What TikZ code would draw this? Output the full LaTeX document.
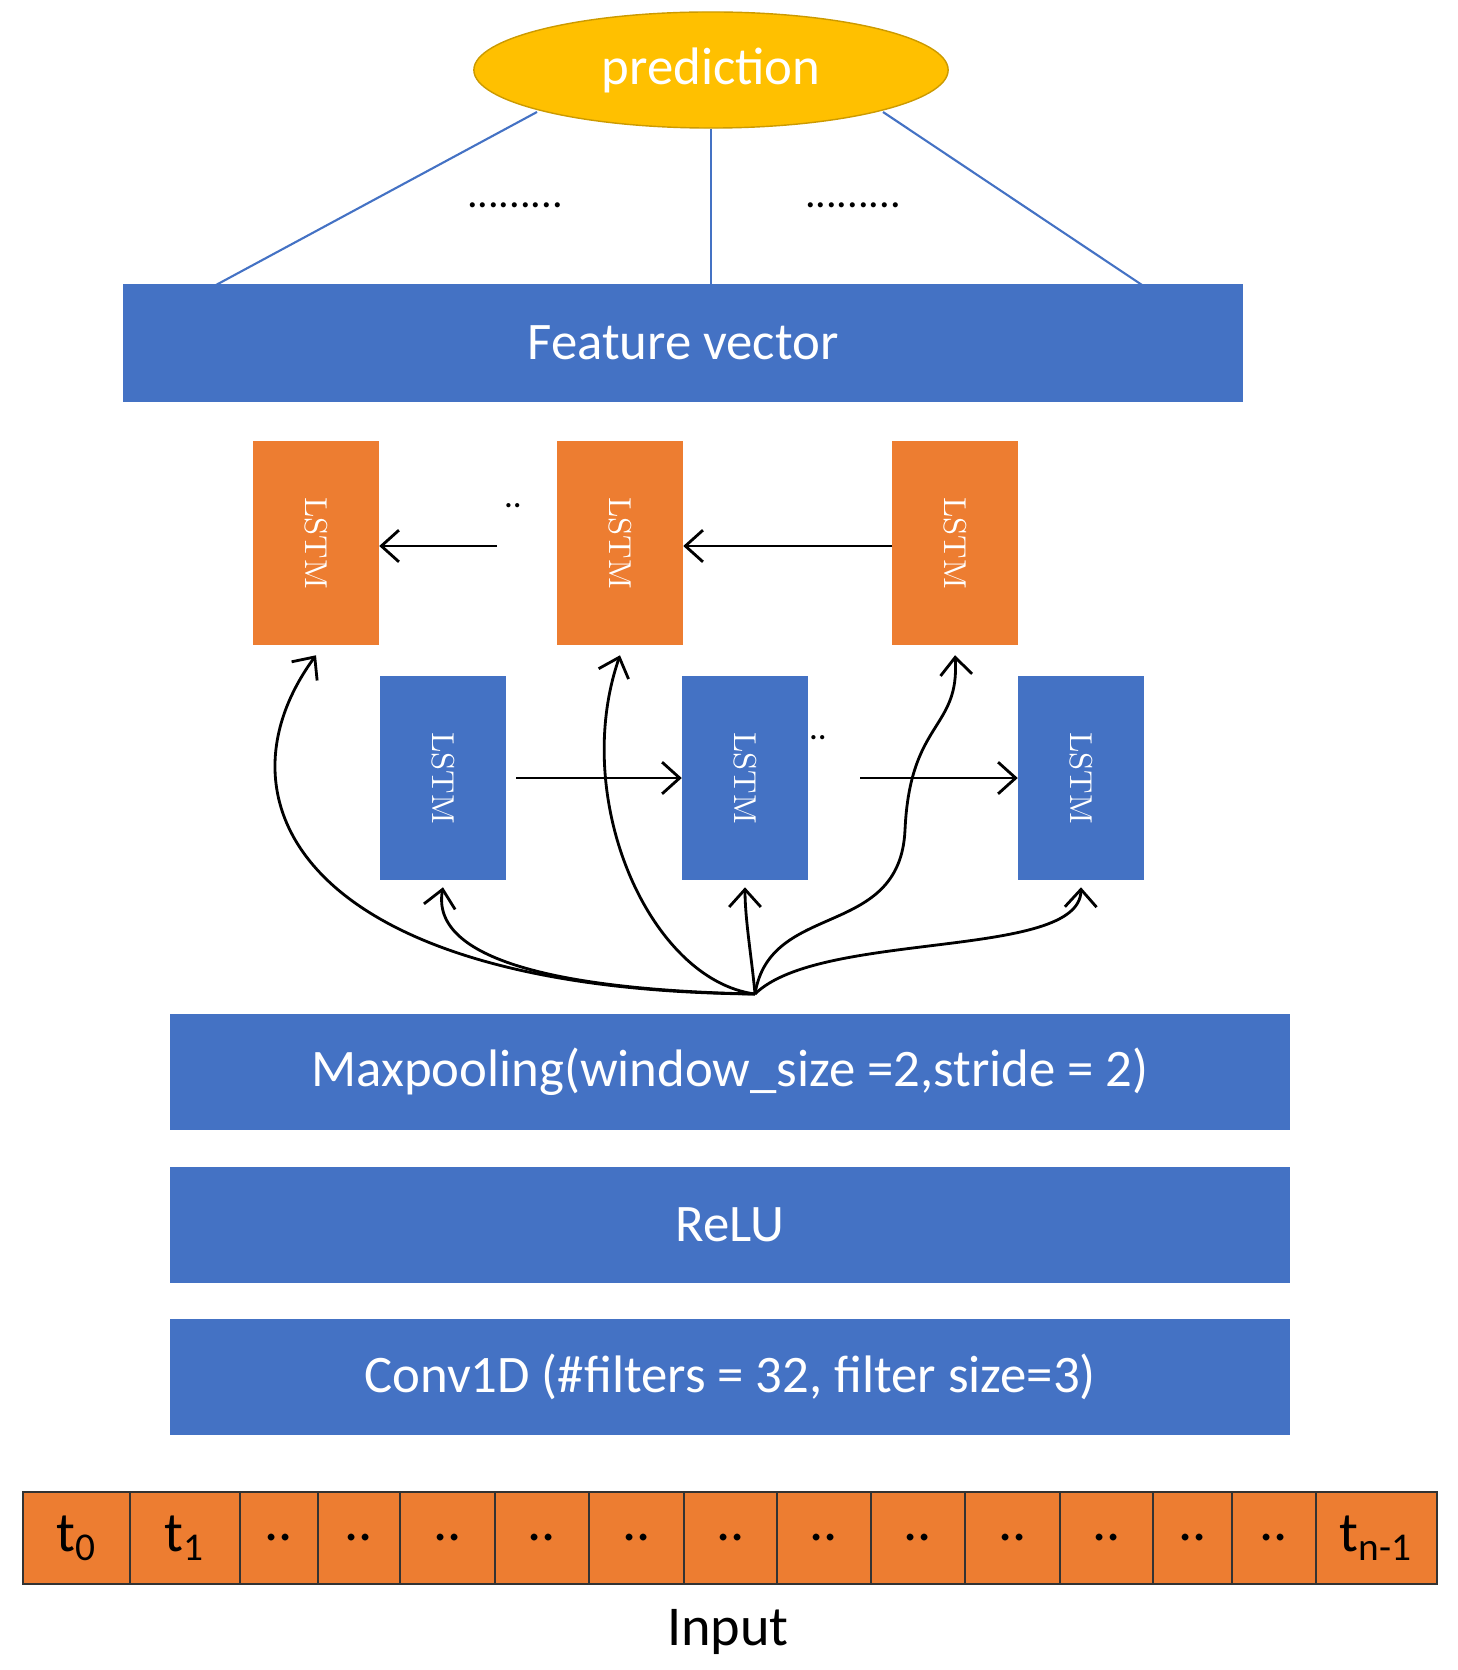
\documentclass[tikz,border=0pt]{standalone}
\usepackage{fontspec}
\setmainfont{Carlito}
\usetikzlibrary{arrows.meta,shapes.geometric}
\definecolor{blk}{HTML}{4472C4}
\definecolor{org}{HTML}{ED7D31}
\definecolor{gld}{HTML}{FFC000}
\begin{document}
\begin{tikzpicture}[x=0.01cm,y=-0.01cm,
  bar/.style={fill=blk,text=white,inner sep=0,font=\fontsize{15}{18}\selectfont},
  lstm/.style={inner sep=0,minimum width=1.25cm,minimum height=2.03cm,text=white,
    font=\fontfamily{lmr}\selectfont\small},
  cell/.style={fill=org,draw=black!80,line width=0.8pt,inner sep=0,minimum height=0.92cm,
    font=\fontsize{16}{18}\selectfont},
  arr/.style={-{Straight Barb[length=5pt,width=9pt]},line width=0.8pt},
  feed/.style={draw=blk,line width=0.6pt}]
\useasboundingbox (0,0) rectangle (1458,1670);
% prediction
\node[ellipse,fill=gld,draw=gld!80!black,minimum width=4.74cm,minimum height=1.16cm,text=white,
  font=\fontsize{15}{18}\selectfont] (pred) at (711,70) {prediction};
\node[bar,minimum width=11.2cm,minimum height=1.17cm] (fv) at (683,343) {Feature vector};
\coordinate (pl) at (537,112);
\coordinate (pr) at (883,112);
\coordinate (fl) at (216,285);
\coordinate (fr) at (1142,285);
\draw[feed] (pl) -- (fl);
\draw[feed] (pred.south) -- (pred.south |- fv.north);
\draw[feed] (pr) -- (fr);
\node[font=\large] at (515,205) {.........};
\node[font=\large] at (853,205) {.........};
% LSTMs
\node[lstm,fill=org] (o1) at (316,543) {\rotatebox{-90}{LSTM}};
\node[lstm,fill=org] (o2) at (620,543) {\rotatebox{-90}{LSTM}};
\node[lstm,fill=org] (o3) at (955,543) {\rotatebox{-90}{LSTM}};
\node[lstm,fill=blk] (b1) at (443,778) {\rotatebox{-90}{LSTM}};
\node[lstm,fill=blk] (b2) at (745,778) {\rotatebox{-90}{LSTM}};
\node[lstm,fill=blk] (b3) at (1081,778) {\rotatebox{-90}{LSTM}};
\coordinate (od) at (497,546);
\coordinate (bs) at (516,778);
\coordinate (bd) at (860,778);
\draw[arr] (od) -- (o1.east |- od);
\draw[arr] (o3.west |- od) -- (o2.east |- od);
\draw[arr] (bs) -- (b2.west |- bs);
\draw[arr] (bd) -- (b3.west |- bd);
\node at (513,506) {..};
\node at (818,738) {..};
% feeds from maxpooling
\coordinate (src) at (755,994);
\draw[arr] (src) .. controls (300,990) and (210,800) .. ([yshift=-0.1cm]o1.south);
\draw[arr] (src) .. controls (560,990) and (430,960) .. ([yshift=-0.07cm]b1.south);
\draw[arr] (src) .. controls (650,980) and (570,800) .. ([yshift=-0.1cm]o2.south);
\draw[arr] (src) .. controls (752,960) and (745,920) .. ([yshift=-0.07cm]b2.south);
\draw[arr] (src) .. controls (770,900) and (900,940) .. (905,830)
  .. controls (910,720) and (960,730) .. ([yshift=-0.1cm]o3.south);
\draw[arr] (src) .. controls (820,930) and (1080,960) .. ([yshift=-0.07cm]b3.south);
% bars
\node[bar,minimum width=11.2cm,minimum height=1.15cm] (mp) at (730,1072) {Maxpooling(window\_size =2,stride = 2)};
\node[bar,minimum width=11.2cm,minimum height=1.15cm] (relu) at (730,1225) {ReLU};
\node[bar,minimum width=11.2cm,minimum height=1.15cm] (conv) at (730,1377) {Conv1D (\#filters = 32, filter size=3)};
% input cells
\foreach \a/\b/\t [count=\i] in {23/130/t\textsubscript{0},130/240/t\textsubscript{1},240/318/..,318/400/..,400/495/..,
  495/589/..,589/684/..,684/777/..,777/871/..,871/965/..,965/1060/..,1060/1153/..,1153/1232/..,
  1232/1316/..,1316/1437/t\textsubscript{n-1}}
  \node[cell,minimum width={(\b-\a)*0.01cm}] (c\i) at ({(\a+\b)/2},1538) {\t};
\node[font=\fontsize{16}{18}\selectfont] (inp) at (728,1632) {Input};
\end{tikzpicture}
\end{document}
